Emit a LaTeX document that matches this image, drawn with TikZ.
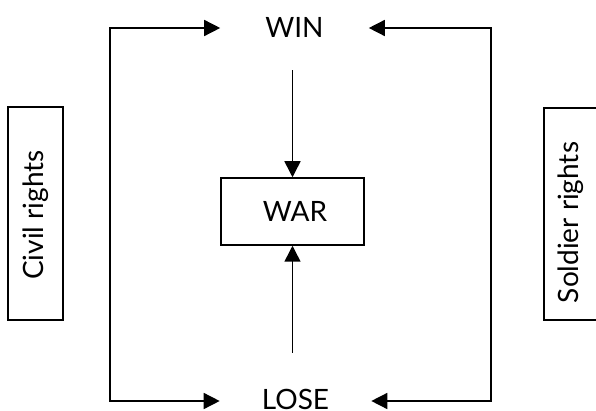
\documentclass[tikz,border=0pt]{standalone}
\usepackage{fontspec}
\setmainfont{Lato}
\usetikzlibrary{arrows.meta}
\begin{document}
\begin{tikzpicture}[x=1pt,y=-1pt,
  lbl/.style={font=\fontsize{28}{32}\selectfont, inner sep=0pt, text height=19pt, text depth=0pt},
  boxed/.style={draw, line width=1.5pt, inner sep=0pt},
  conn/.style={line width=1.5pt, -{Triangle[length=16pt,width=16pt]}},
  dbl/.style={line width=1.5pt, {Triangle[length=16pt,width=16pt]}-{Triangle[length=16pt,width=16pt]}}]
\useasboundingbox (0,0) rectangle (596,411);
\node[lbl, anchor=base] (win) at (294.5,38) {WIN};
\node[lbl, anchor=base] (lose) at (295.5,409) {LOSE};
\node[boxed, minimum width=143pt, minimum height=67pt] (war) at (292.5,211.5) {};
\node[lbl, anchor=base] (wart) at (295,222) {WAR};
\node[boxed, minimum width=55pt, minimum height=213pt] (civil) at (35.5,213.5) {};
\node[lbl, rotate=90, anchor=base] (civilt) at (43,215) {Civil rights};
\node[boxed, minimum width=55pt, minimum height=212pt] (soldier) at (571.5,214) {};
\node[lbl, rotate=90, anchor=base] (soldiert) at (578,222.5) {Soldier rights};
\coordinate (tl) at (110,28);
\coordinate (bl) at (110,401);
\coordinate (tr) at (491,28);
\coordinate (br) at (491,401);
\draw[conn, shorten <=32pt] (war.north |- win.south) -- (war.north);
\draw[conn, shorten <=37pt] (war.south |- lose.north) -- (war.south);
\draw[dbl, shorten <=45pt, shorten >=42pt] (win.west |- tl) -- (tl) -- (bl) -- (bl -| lose.west);
\draw[dbl, shorten <=45pt, shorten >=42pt] (win.east |- tr) -- (tr) -- (br) -- (br -| lose.east);
\end{tikzpicture}
\end{document}
